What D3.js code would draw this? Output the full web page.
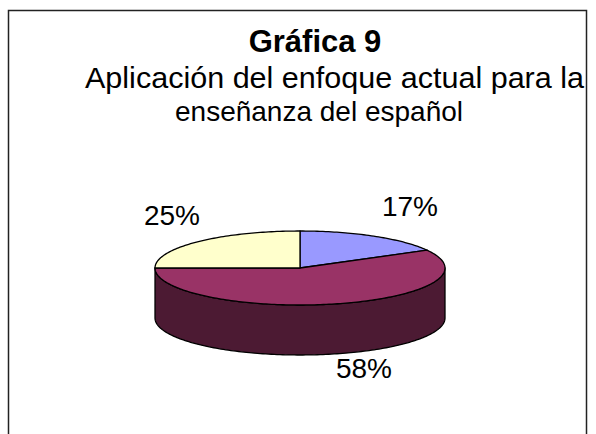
<!DOCTYPE html>
<html>
<head>
<meta charset="utf-8">
<script src="https://cdn.jsdelivr.net/npm/d3@7"></script>
<style>
  html, body { margin: 0; padding: 0; background: #fff; }
  svg text { font-family: Arial, "Liberation Sans", sans-serif; fill: #000; }
</style>
</head>
<body>
<svg id="chart" width="596" height="434"></svg>
<script>
// data
const categories = ['A', 'B', 'C'];
const values = [17, 58, 25];
const pctLabels = ['17%', '58%', '25%'];
const topColors = ['#9999ff', '#993366', '#ffffcc'];
const sideColors = ['#5c5c99', '#4c1a33', '#999978'];
const titleLines = ['Gráfica 9', 'Aplicación del enfoque actual para la', 'enseñanza del español'];

const W = 596, H = 434;
const cx = 300, cy = 268, rx = 145, ry = 37, depth = 50;

const svg = d3.select('#chart');

// chart frame (bottom edge falls outside the window)
svg.append('rect')
  .attr('x', 8.5).attr('y', 10.5)
  .attr('width', 578).attr('height', 440)
  .attr('fill', '#fff').attr('stroke', '#222').attr('stroke-width', 1.5);

// ── title ──
const title = svg.append('g');
title.append('text')
  .attr('x', 315).attr('y', 52)
  .attr('text-anchor', 'middle')
  .attr('font-size', 31).attr('font-weight', 'bold')
  .text(titleLines[0]);
title.append('text')
  .attr('x', 85).attr('y', 88)
  .attr('font-size', 30)
  .attr('textLength', 499).attr('lengthAdjust', 'spacingAndGlyphs')
  .text(titleLines[1]);
title.append('text')
  .attr('x', 319).attr('y', 121)
  .attr('text-anchor', 'middle')
  .attr('font-size', 28)
  .text(titleLines[2]);

// ── pie: angles from d3.pie, 0 = 12 o'clock, clockwise ──
const pie = d3.pie().sort(null).value(d => d);
const arcs = pie(values).map((a, i) => ({ ...a, i }));

// angle -> projected ellipse point
const ex = d3.scaleLinear().domain([-1, 1]).range([cx - rx, cx + rx]);
const ey = d3.scaleLinear().domain([-1, 1]).range([cy - ry, cy + ry]);
const pt = (a, dy = 0) => [ex(Math.sin(a)), ey(-Math.cos(a)) + dy];

function sample(a0, a1, dy) {
  const n = Math.max(2, Math.ceil(Math.abs(a1 - a0) / 0.02));
  return d3.range(n + 1).map(k => pt(a0 + (a1 - a0) * k / n, dy));
}

const line = d3.line();
const root = svg.append('g');

// outer walls, only the front half (pi/2 .. 3pi/2) is visible
arcs.forEach(d => {
  const a0 = Math.max(d.startAngle, Math.PI / 2);
  const a1 = Math.min(d.endAngle, Math.PI * 3 / 2);
  if (a1 <= a0) return;
  const pts = sample(a0, a1, 0).concat(sample(a1, a0, depth));
  root.append('path')
    .attr('d', line(pts) + 'Z')
    .attr('fill', sideColors[d.i])
    .attr('stroke', '#000').attr('stroke-width', 1.3)
    .attr('stroke-linejoin', 'round');
});

// top faces
arcs.forEach(d => {
  const pts = [[cx, cy]].concat(sample(d.startAngle, d.endAngle, 0));
  root.append('path')
    .attr('d', line(pts) + 'Z')
    .attr('fill', topColors[d.i])
    .attr('stroke', '#000').attr('stroke-width', 1.3)
    .attr('stroke-linejoin', 'round');
});

// ── percentage labels ──
const labelPos = [[410, 216], [364, 378], [172, 225]];
svg.append('g').selectAll('text')
  .data(arcs)
  .join('text')
    .attr('x', d => labelPos[d.i][0])
    .attr('y', d => labelPos[d.i][1])
    .attr('text-anchor', 'middle')
    .attr('font-size', 28)
    .text(d => pctLabels[d.i]);
</script>
</body>
</html>
